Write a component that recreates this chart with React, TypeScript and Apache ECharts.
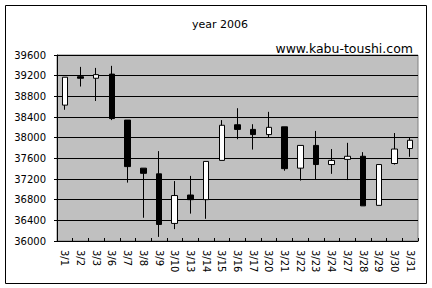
import React, { useEffect, useRef } from "react";
import * as echarts from "echarts";

const categories = ["3/1","3/2","3/3","3/6","3/7","3/8","3/9","3/10","3/13","3/14","3/15","3/16","3/17","3/20","3/21","3/22","3/23","3/24","3/27","3/28","3/29","3/30","3/31"];
const opens  = [38630,39180,39150,39230,38340,37410,37300,36340,36890,36800,37560,38250,38160,38060,38210,37410,37850,37480,37580,37640,36690,37500,37790];
const closes = [39170,39150,39220,38370,37440,37310,36320,36880,36800,37540,38240,38160,38060,38200,37400,37850,37480,37560,37640,36680,37480,37780,37950];
const lows   = [38540,38990,38710,38340,37130,36450,36080,36230,36530,36430,37560,37970,37770,38000,37360,37170,37200,37300,37180,36680,36690,37480,37630];
const highs  = [39170,39370,39350,39390,38340,37410,37740,37160,37260,37540,38340,38570,38260,38500,38210,37850,38130,37780,37900,37720,37480,38090,38010];
const yTicks = { min: 36000, max: 39600, step: 400 };
const titleText = "year 2006";
const siteText = "www.kabu-toushi.com";

export default function App() {
  const ref = useRef<HTMLDivElement>(null);
  useEffect(() => {
    if (!ref.current) return;
    const chart = echarts.init(ref.current, null, { renderer: "svg" });
    const data = categories.map((_, i) => [opens[i], closes[i], lows[i], highs[i]]);
    const font = "DejaVu Sans";
    chart.setOption({
      animation: false,
      backgroundColor: "#ffffff",
      title: [
        { text: titleText, left: 215, top: 14, textAlign: "center",
          textStyle: { fontFamily: font, fontSize: 11, fontWeight: "normal", color: "#000" } },
        { text: siteText, right: 14, top: 37,
          textStyle: { fontFamily: font, fontSize: 12.5, fontWeight: "normal", color: "#000" } },
      ],
      graphic: [
        { type: "rect", shape: { x: 5.5, y: 5.5, width: 421, height: 278 },
          style: { fill: "none", stroke: "#000", lineWidth: 1 }, silent: true },
      ],
      grid: { left: 57, right: 14, top: 55, bottom: 47, show: true,
        backgroundColor: "#c0c0c0", borderColor: "#808080", borderWidth: 1 },
      xAxis: {
        type: "category", data: categories, boundaryGap: true,
        axisLine: { show: true, lineStyle: { color: "#000", width: 1 } },
        axisTick: { show: true, inside: true, length: 3, lineStyle: { color: "#000" } },
        axisLabel: { rotate: -90, fontFamily: font, fontSize: 10, color: "#000", margin: 9, interval: 0 },
        splitLine: { show: false },
      },
      yAxis: {
        type: "value", min: yTicks.min, max: yTicks.max, interval: yTicks.step,
        axisLine: { show: true, lineStyle: { color: "#000", width: 1 } },
        axisTick: { show: true, length: 3, lineStyle: { color: "#000" } },
        axisLabel: { fontFamily: font, fontSize: 10, color: "#000", margin: 11, formatter: (v: number) => String(v) },
        splitLine: { show: true, lineStyle: { color: "#000", width: 1 } },
      },
      series: [{
        type: "candlestick", data, barWidth: 6,
        itemStyle: { color: "#ffffff", color0: "#000000", borderColor: "#000000", borderColor0: "#000000", borderWidth: 1 },
      }],
    });
    return () => chart.dispose();
  }, []);
  return <div ref={ref} style={{ position: "fixed", left: 0, top: 0, width: 432, height: 288 }} />;
}
